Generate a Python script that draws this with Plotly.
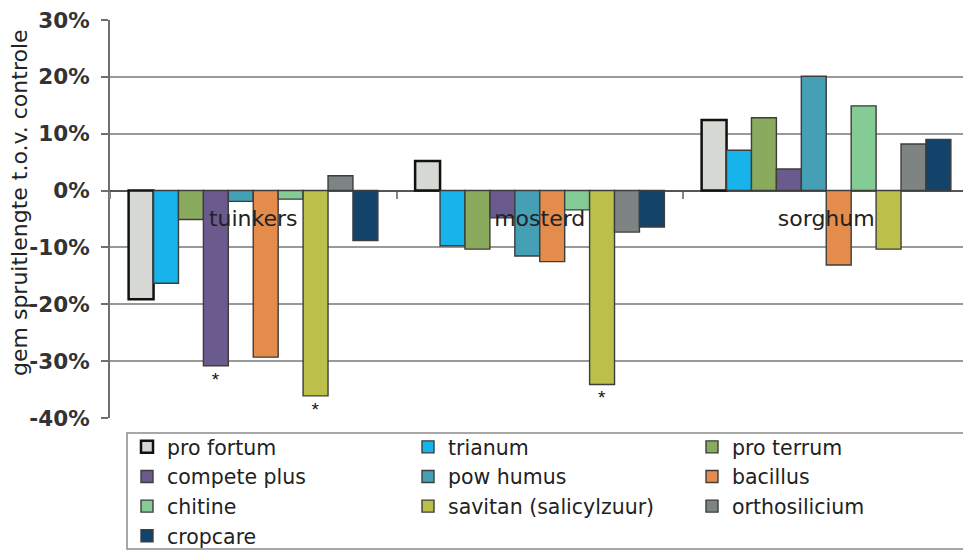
import plotly.graph_objects as go

categories = ["tuinkers", "mosterd", "sorghum"]

series_names = ["pro fortum", "trianum", "pro terrum", "compete plus", "pow humus",
                "bacillus", "chitine", "savitan (salicylzuur)", "orthosilicium", "cropcare"]

pro_fortum = [-19.1, 5.2, 12.4]
trianum = [-16.3, -9.7, 7.1]
pro_terrum = [-5.1, -10.3, 12.8]
compete_plus = [-30.8, -4.8, 3.8]
pow_humus = [-1.9, -11.5, 20.1]
bacillus = [-29.3, -12.5, -13.1]
chitine = [-1.5, -3.4, 14.9]
savitan = [-36.1, -34.1, -10.3]
orthosilicium = [2.6, -7.3, 8.2]
cropcare = [-8.8, -6.4, 9.0]

significance = {
    "compete plus": ["*", "", ""],
    "savitan (salicylzuur)": ["*", "*", ""],
}

y_tick_vals = [-40, -30, -20, -10, 0, 10, 20, 30]
y_tick_text = ["-40%", "-30%", "-20%", "-10%", "0%", "10%", "20%", "30%"]
zero_line_values = [0, 0, 0]

series_values = [pro_fortum, trianum, pro_terrum, compete_plus, pow_humus,
                 bacillus, chitine, savitan, orthosilicium, cropcare]

colors = ["#D6D8D4", "#16B4EA", "#8AAA5E", "#6A5A8E", "#45A0B6",
          "#E38C4C", "#85CB95", "#BAC04A", "#7E8483", "#13436B"]

legend_of = ["legend", "legend2", "legend3", "legend", "legend2",
             "legend3", "legend", "legend2", "legend3", "legend"]

FONT = "DejaVu Sans"

fig = go.Figure()
for i, (name, vals) in enumerate(zip(series_names, series_values)):
    is_first = (i == 0)
    txt = significance.get(name, ["", "", ""])
    fig.add_trace(go.Bar(
        name=name, x=categories, y=vals,
        marker=dict(color=colors[i],
                    line=dict(color="#111111" if is_first else "#3d3d3d",
                              width=2.5 if is_first else 1.4)),
        text=txt, textposition="outside",
        textfont=dict(size=19, color="#111111", family="Liberation Sans"),
        cliponaxis=False,
        legend=legend_of[i], legendgroup=name,
    ))

# invisible helper trace that carries the category axis drawn at the zero line
fig.add_trace(go.Scatter(x=categories, y=zero_line_values, xaxis="x2", mode="markers",
                         marker=dict(opacity=0), showlegend=False, hoverinfo="skip"))

W, H = 963, 551
ml, mr, mt, mb = 110, 0, 20, 133
pw = W - ml - mr
ph = H - mt - mb

def px_x(p):
    return (p - ml) / pw

def px_y(p):
    return (H - mb - p) / ph

xr = [-0.5, -0.5 + pw / 286.5]

legend_font = dict(family=FONT, size=20.5, color="#222222")
common_leg = dict(yanchor="top", xanchor="left", bgcolor="rgba(0,0,0,0)",
                  font=legend_font, tracegroupgap=0, orientation="v")

fig.update_layout(
    width=W, height=H,
    margin=dict(l=ml, r=mr, t=mt, b=mb, autoexpand=False),
    paper_bgcolor="white", plot_bgcolor="white",
    barmode="group", bargap=0.13, bargroupgap=0,
    font=dict(family=FONT, color="#222222"),
    legend=dict(x=px_x(127), y=px_y(427), **common_leg),
    legend2=dict(x=px_x(408), y=px_y(427), **common_leg),
    legend3=dict(x=px_x(692), y=px_y(427), **common_leg),
    xaxis=dict(
        range=xr, showline=False, showgrid=False, zeroline=False,
        showticklabels=False, ticks="",
    ),
    xaxis2=dict(
        range=xr, overlaying="x", anchor="free", position=4 / 7, side="bottom",
        showline=False, showgrid=False, zeroline=False,
        ticks="outside", tickson="boundaries", ticklen=7,
        tickcolor="#888888", tickwidth=1.5,
        tickfont=dict(family=FONT, size=22, color="#222222"),
        ticklabelstandoff=12,
    ),
    yaxis=dict(
        range=[-40, 30], tickvals=y_tick_vals, ticktext=y_tick_text,
        showgrid=True, gridcolor="#999999", gridwidth=2,
        zeroline=True, zerolinecolor="#555555", zerolinewidth=1.5,
        showline=True, linecolor="#6f6f6f", linewidth=2,
        ticks="outside", ticklen=7, tickcolor="#6f6f6f", tickwidth=2,
        tickfont=dict(family=FONT, size=21.5, color="#333333", weight="bold"),
        ticklabelstandoff=7,
    ),
    shapes=[dict(type="rect", xref="paper", yref="paper", layer="below",
                 x0=px_x(127), x1=px_x(975), y0=px_y(433), y1=px_y(549),
                 line=dict(color="#8a8a8a", width=1.5), fillcolor="rgba(255,255,255,0)")],
    annotations=[dict(text="gem spruitlengte t.o.v. controle", textangle=-90,
                      xref="paper", yref="paper", x=px_x(19), y=px_y(203),
                      xanchor="center", yanchor="middle", showarrow=False,
                      font=dict(family=FONT, size=22, color="#222222"))],
)

fig.write_html("out.html", config={"displayModeBar": False},
               post_script="document.body.style.margin='0px';")
